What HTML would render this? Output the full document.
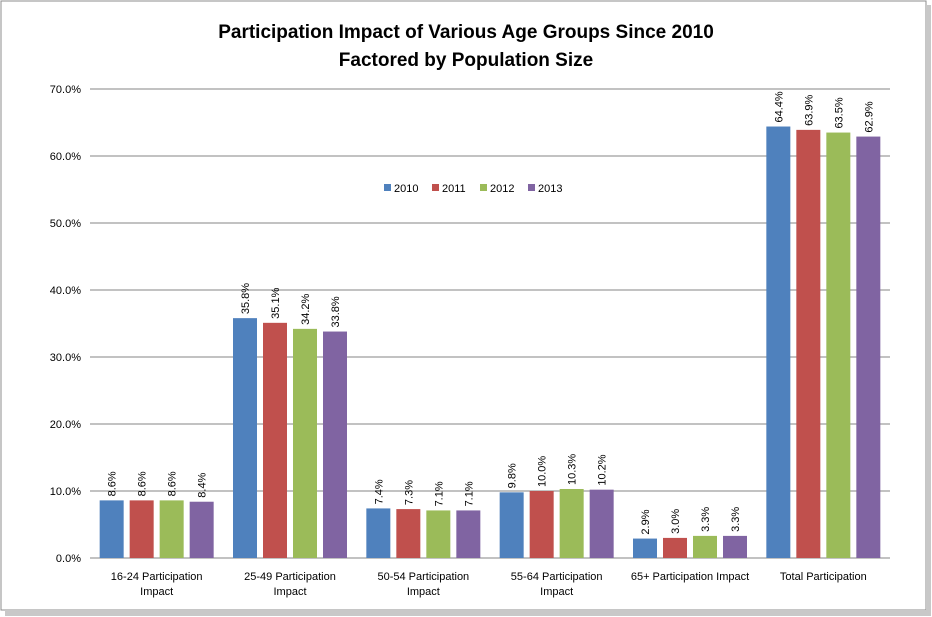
<!DOCTYPE html>
<html><head><meta charset="utf-8"><style>
body{margin:0;background:#fff;}
svg{display:block;font-family:"Liberation Sans",sans-serif;}
</style></head><body>
<svg id="chart" width="932" height="617">
<rect x="1" y="1" width="925" height="609" fill="#fff" stroke="#8c8c8c"/>
<rect x="926" y="5" width="5" height="610" fill="#c8c8c8"/>
<rect x="5" y="610" width="926" height="6" fill="#c8c8c8"/>
<text x="466" y="38" text-anchor="middle" font-size="19" font-weight="bold" fill="#000">Participation Impact of Various Age Groups Since 2010</text>
<text x="466" y="66" text-anchor="middle" font-size="19" font-weight="bold" fill="#000">Factored by Population Size</text>
<g id="grid"></g><g id="bars"></g><g id="legend"></g>
</svg>
<script>
const categories=[["16-24 Participation","Impact"],["25-49 Participation","Impact"],["50-54 Participation","Impact"],["55-64 Participation","Impact"],["65+ Participation Impact"],["Total Participation"]];
const years=["2010","2011","2012","2013"];
const s2010=[8.6,35.8,7.4,9.8,2.9,64.4];
const s2011=[8.6,35.1,7.3,10.0,3.0,63.9];
const s2012=[8.6,34.2,7.1,10.3,3.3,63.5];
const s2013=[8.4,33.8,7.1,10.2,3.3,62.9];
const ticks=[0,10,20,30,40,50,60,70];
const series=[s2010,s2011,s2012,s2013];
const colors=["#4f81bd","#c0504d","#9bbb59","#8064a2"];
const NS="http://www.w3.org/2000/svg";
const x0=90,x1=890,y0=558,yTop=89;
const y=v=>y0-(v/70)*(y0-yTop);
const gw=(x1-x0)/categories.length;
const gx=i=>x0+gw*i+gw/2;
function mk(t,a,p,txt){const e=document.createElementNS(NS,t);for(const k in a)e.setAttribute(k,a[k]);if(txt!=null)e.textContent=txt;p.appendChild(e);return e;}
const grid=document.getElementById('grid'),bars=document.getElementById('bars'),leg=document.getElementById('legend');
ticks.forEach(t=>{
 const l=mk('line',{x1:x0,x2:x1,y1:y(t),y2:y(t),stroke:'#868686','stroke-width':1},grid);
 
 
 const tx=mk('text',{x:x0-9,y:y(t)+4,'text-anchor':'end','font-size':11,fill:'#000'},grid,t.toFixed(1)+'%');
 
 
});
categories.forEach((c,i)=>{
 c.forEach((ln,j)=>{
  const t=mk('text',{x:gx(i),y:580+j*15,'text-anchor':'middle','font-size':11,fill:'#000'},grid,ln);
  
  
 });
 series.forEach((s,k)=>{
  const bx=gx(i)-57+k*30;
  const r=mk('rect',{x:bx,y:y(s[i]),width:24,height:y0-y(s[i]),fill:colors[k]},bars);
  
  
  const lx=bx+12+4,ly=y(s[i])-4;
  const t=mk('text',{x:lx,y:ly,transform:`rotate(-90 ${lx} ${ly})`,'font-size':11,fill:'#000'},bars,s[i].toFixed(1)+'%');
  
  
 });
});
years.forEach((yr,k)=>{
 const lx=384+k*48;
 const r=mk('rect',{x:lx,y:184,width:7,height:7,fill:colors[k]},leg);
 
 
 const t=mk('text',{x:lx+10,y:192,'font-size':11,fill:'#000'},leg,yr);
 
 
});
</script>
</body></html>
